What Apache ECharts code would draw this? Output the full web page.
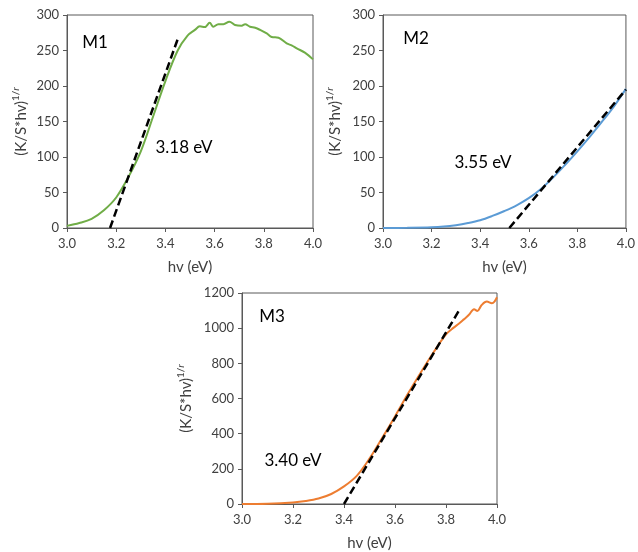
<!DOCTYPE html>
<html>
<head>
<meta charset="utf-8">
<script src="https://cdn.jsdelivr.net/npm/echarts@6/dist/echarts.min.js"></script>
<style>
  html, body { margin: 0; padding: 0; background: #fff; }
  #chart { width: 638px; height: 552px; }
</style>
</head>
<body>
<div id="chart"></div>
<script>
// ---- Data ----
const m1X = [3.0, 3.05, 3.1, 3.15, 3.2, 3.25, 3.3, 3.35, 3.4, 3.45, 3.49, 3.52, 3.54, 3.56, 3.58, 3.595, 3.615, 3.636, 3.66, 3.683, 3.71, 3.724, 3.744, 3.765, 3.785, 3.812, 3.832, 3.86, 3.893, 3.915, 3.934, 3.967, 4.0];
const m1Y = [3, 7, 13, 25, 43, 72, 108, 157, 207, 250, 271, 279, 284, 283, 289, 283.5, 287, 287, 290.5, 286, 285, 287, 283.5, 282, 279, 274, 269, 268, 260, 257, 253, 247, 237.5];

const m2X = [3.0, 3.1, 3.2, 3.25, 3.3, 3.35, 3.4, 3.45, 3.5, 3.55, 3.6, 3.65, 3.7, 3.75, 3.8, 3.85, 3.9, 3.95, 4.0];
const m2Y = [0, 0.3, 1, 2, 4, 7, 11, 17, 24, 32, 42, 55, 71, 89, 108, 128, 149, 171, 196];

const m3X = [3.0, 3.1, 3.2, 3.25, 3.3, 3.35, 3.4, 3.45, 3.5, 3.55, 3.6, 3.65, 3.7, 3.75, 3.8, 3.83, 3.85, 3.87, 3.89, 3.91, 3.923, 3.94, 3.96, 3.98, 3.99, 4.0];
const m3Y = [0, 2, 9, 17, 31, 57, 100, 160, 258, 376, 498, 625, 745, 860, 965, 1003, 1025, 1050, 1076, 1108, 1098, 1132, 1151, 1142, 1151, 1176];

// Tangent (band-gap extrapolation) lines: [x, y] endpoints
const m1TanX = [3.175, 3.45];
const m1TanY = [0, 266];
const m2TanX = [3.52, 4.0];
const m2TanY = [0, 195];
const m3TanX = [3.40, 3.855];
const m3TanY = [0, 1110];

const panelNames = ['M1', 'M2', 'M3'];
const gapLabels = ['3.18 eV', '3.55 eV', '3.40 eV'];
const xTickMin = 3.0, xTickMax = 4.0, xTickStep = 0.2;
const yMaxes = [300, 300, 1200];
const yStepsArr = [50, 50, 200];

// ---- Styles ----
const FONT = 'Lato';
const AXIS_COLOR = '#595959';
const LABEL_COLOR = '#404040';
const colors = ['#70AD47', '#5B9BD5', '#ED7D31'];

function zip(xs, ys) { return xs.map((x, i) => [x, ys[i]]); }

const grids = [
  { left: 67, top: 15, width: 246, height: 213 },
  { left: 383, top: 15, width: 249, height: 213 },
  { left: 242, top: 293, width: 255, height: 213 }
].map(g => Object.assign(g, { show: true, borderColor: AXIS_COLOR, borderWidth: 1, containLabel: false }));

const yNameGaps = [36, 38, 46];

const xAxes = [0, 1, 2].map(i => ({
  type: 'value', gridIndex: i, min: xTickMin, max: xTickMax, interval: xTickStep,
  axisLine: { show: true, lineStyle: { color: AXIS_COLOR, width: 1 } },
  axisTick: { show: true, inside: false, length: 4, lineStyle: { color: AXIS_COLOR } },
  axisLabel: { color: LABEL_COLOR, fontSize: 13, fontFamily: FONT, margin: 9, formatter: v => v.toFixed(1) },
  splitLine: { show: false },
  name: 'hv (eV)', nameLocation: 'middle', nameGap: 32,
  nameTextStyle: { fontSize: 15, color: LABEL_COLOR, fontFamily: FONT }
}));

const yAxes = [0, 1, 2].map(i => ({
  type: 'value', gridIndex: i, min: 0, max: yMaxes[i], interval: yStepsArr[i],
  axisLine: { show: true, lineStyle: { color: AXIS_COLOR, width: 1 } },
  axisTick: { show: true, inside: false, length: 4, lineStyle: { color: AXIS_COLOR } },
  axisLabel: { color: LABEL_COLOR, fontSize: 13, fontFamily: FONT, margin: 8, formatter: v => String(v) },
  splitLine: { show: false },
  name: '{a|(K/S*hv)}{b|1/}{c|r}', nameLocation: 'middle', nameGap: yNameGaps[i],
  nameTextStyle: {
    color: LABEL_COLOR, fontFamily: FONT,
    rich: {
      a: { fontSize: 15, color: LABEL_COLOR, fontFamily: FONT, lineHeight: 20 },
      b: { fontSize: 10, color: LABEL_COLOR, fontFamily: FONT, verticalAlign: 'top', lineHeight: 20, padding: [0, 0, 6, 0] },
      c: { fontSize: 10, color: LABEL_COLOR, fontFamily: FONT, fontStyle: 'italic', verticalAlign: 'top', lineHeight: 20, padding: [0, 0, 6, 0] }
    }
  }
}));

const curves = [zip(m1X, m1Y), zip(m2X, m2Y), zip(m3X, m3Y)];
const tangents = [zip(m1TanX, m1TanY), zip(m2TanX, m2TanY), zip(m3TanX, m3TanY)];

const series = [];
[0, 1, 2].forEach(i => {
  series.push({
    type: 'line', xAxisIndex: i, yAxisIndex: i, data: curves[i],
    showSymbol: false, symbol: 'none', smooth: 0.35,
    lineStyle: { color: colors[i], width: 2 }, z: 2, silent: true
  });
  series.push({
    type: 'line', xAxisIndex: i, yAxisIndex: i, data: tangents[i],
    showSymbol: false, symbol: 'none',
    lineStyle: { color: '#000', width: 2.5, type: [8, 4] }, z: 3, silent: true
  });
});

// annotation anchor positions (pixel centres of the text labels)
const namePos = [[95, 43], [416, 39], [272, 317]];
const gapPos = [[184, 148], [483, 163], [293, 461]];

const graphic = [];
[0, 1, 2].forEach(i => {
  graphic.push({ type: 'text', x: namePos[i][0], y: namePos[i][1],
    style: { text: panelNames[i], align: 'center', verticalAlign: 'middle', fontSize: 17, fontFamily: FONT, fill: '#000' } });
  graphic.push({ type: 'text', x: gapPos[i][0], y: gapPos[i][1],
    style: { text: gapLabels[i], align: 'center', verticalAlign: 'middle', fontSize: 17, fontFamily: FONT, fill: '#000' } });
});

const chart = echarts.init(document.getElementById('chart'), null, { renderer: 'canvas' });
chart.setOption({
  animation: false,
  backgroundColor: '#fff',
  grid: grids,
  xAxis: xAxes,
  yAxis: yAxes,
  series: series,
  graphic: graphic
});
</script>
</body>
</html>
